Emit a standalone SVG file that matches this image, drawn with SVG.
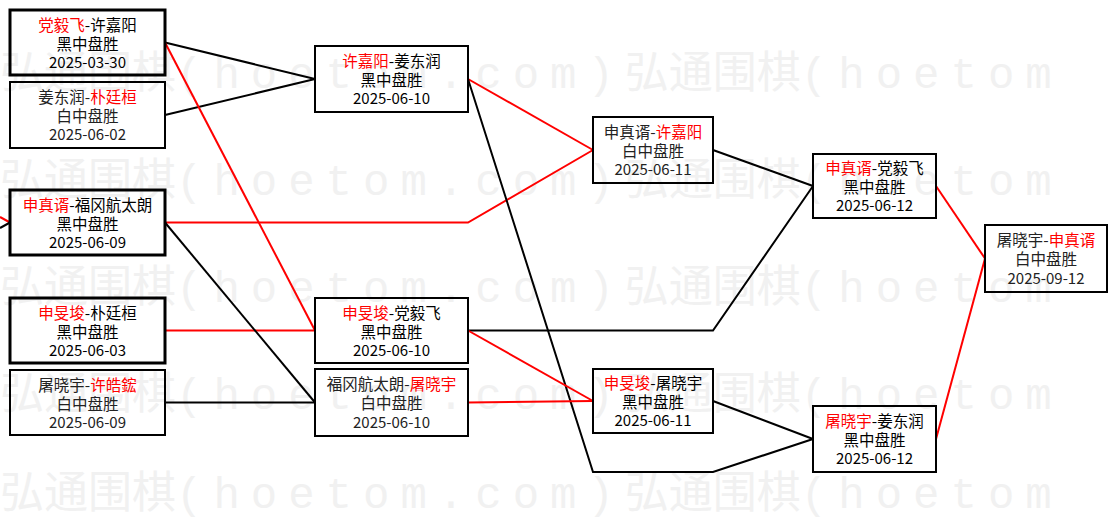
<svg xmlns="http://www.w3.org/2000/svg" width="1118" height="517" viewBox="0 0 1118 517">
<style>
.wm{font-family:"Noto Sans CJK SC","Liberation Mono",sans-serif;font-size:44px;fill:#f1f1f1}
.wm .a{font-family:"Liberation Mono","Noto Sans CJK SC",monospace;letter-spacing:11px}
.box{fill:none;stroke:#000;stroke-width:2}
.thick{stroke-width:3}
.t{font-family:"Noto Sans CJK SC","Noto Sans CJK JP",sans-serif;font-size:15.5px;fill:#000;text-anchor:middle}
.d{font-size:15px}
.w .t{fill:#222}
.r{fill:#f00}
.k{fill:none;stroke:#000;stroke-width:2}
.rd{fill:none;stroke:#f00;stroke-width:2}
</style>
<rect width="1118" height="517" fill="#fff"/>
<g id="watermark">
<text class="wm" x="0" y="88">弘通围棋<tspan class="a">(hoetom.com)</tspan>弘通围棋<tspan class="a">(hoetom</tspan></text>
<text class="wm" x="0" y="195">弘通围棋<tspan class="a">(hoetom.com)</tspan>弘通围棋<tspan class="a">(hoetom</tspan></text>
<text class="wm" x="0" y="302">弘通围棋<tspan class="a">(hoetom.com)</tspan>弘通围棋<tspan class="a">(hoetom</tspan></text>
<text class="wm" x="0" y="409">弘通围棋<tspan class="a">(hoetom.com)</tspan>弘通围棋<tspan class="a">(hoetom</tspan></text>
<text class="wm" x="0" y="508">弘通围棋<tspan class="a">(hoetom.com)</tspan>弘通围棋<tspan class="a">(hoetom</tspan></text>
</g>
<g id="connectors">
<polyline class="rd" points="0,217 10,222.5"/>
<polyline class="k" points="0,228 10,222.5"/>
<polyline class="k" points="165,42.5 315,79"/>
<polyline class="k" points="165,115 315,79"/>
<polyline class="rd" points="165,42.5 315,330.5"/>
<polyline class="rd" points="165,330.5 315,330.5"/>
<polyline class="rd" points="165,222.5 468,222.5 593,150"/>
<polyline class="k" points="165,222.5 315,402.5"/>
<polyline class="k" points="165,402.5 315,402.5"/>
<polyline class="rd" points="468,79 593,150"/>
<polyline class="k" points="468,79 593,472 713,472 813,439"/>
<polyline class="k" points="468,330.5 713,330.5 813,186"/>
<polyline class="rd" points="468,330.5 593,401"/>
<polyline class="rd" points="468,402.5 593,401"/>
<polyline class="k" points="713,150 813,186"/>
<polyline class="k" points="713,401 813,439"/>
<polyline class="rd" points="936,186 985,258.5"/>
<polyline class="rd" points="936,439 985,258.5"/>
</g>
<g id="b1"><rect class="box thick" x="10" y="10" width="155" height="65"/>
<text class="t" x="87.5" y="31"><tspan class="r">党毅飞</tspan>-许嘉阳</text>
<text class="t" x="87.5" y="50">黑中盘胜</text>
<text class="t d" x="87.5" y="68">2025-03-30</text></g>
<g id="b2" class="w"><rect class="box" x="10" y="82" width="155" height="66"/>
<text class="t" x="87.5" y="103">姜东润-<tspan class="r">朴廷桓</tspan></text>
<text class="t" x="87.5" y="122">白中盘胜</text>
<text class="t d" x="87.5" y="140">2025-06-02</text></g>
<g id="b3"><rect class="box thick" x="10" y="190" width="155" height="65"/>
<text class="t" x="87.5" y="211"><tspan class="r">申真谞</tspan>-福冈航太朗</text>
<text class="t" x="87.5" y="230">黑中盘胜</text>
<text class="t d" x="87.5" y="248">2025-06-09</text></g>
<g id="b4"><rect class="box thick" x="10" y="298" width="155" height="65"/>
<text class="t" x="87.5" y="319"><tspan class="r">申旻埈</tspan>-朴廷桓</text>
<text class="t" x="87.5" y="338">黑中盘胜</text>
<text class="t d" x="87.5" y="356">2025-06-03</text></g>
<g id="b5" class="w"><rect class="box" x="10" y="370" width="155" height="65"/>
<text class="t" x="87.5" y="391">屠晓宇-<tspan class="r">许皓鋐</tspan></text>
<text class="t" x="87.5" y="410">白中盘胜</text>
<text class="t d" x="87.5" y="428">2025-06-09</text></g>
<g id="c1"><rect class="box" x="315" y="46" width="153" height="66"/>
<text class="t" x="391.5" y="67"><tspan class="r">许嘉阳</tspan>-姜东润</text>
<text class="t" x="391.5" y="86">黑中盘胜</text>
<text class="t d" x="391.5" y="104">2025-06-10</text></g>
<g id="c2"><rect class="box" x="315" y="298" width="153" height="65"/>
<text class="t" x="391.5" y="319"><tspan class="r">申旻埈</tspan>-党毅飞</text>
<text class="t" x="391.5" y="338">黑中盘胜</text>
<text class="t d" x="391.5" y="356">2025-06-10</text></g>
<g id="c3" class="w"><rect class="box" x="315" y="369" width="153" height="67"/>
<text class="t" x="391.5" y="390">福冈航太朗-<tspan class="r">屠晓宇</tspan></text>
<text class="t" x="391.5" y="409">白中盘胜</text>
<text class="t d" x="391.5" y="428">2025-06-10</text></g>
<g id="d1" class="w"><rect class="box" x="593" y="117" width="120" height="66"/>
<text class="t" x="653" y="138">申真谞-<tspan class="r">许嘉阳</tspan></text>
<text class="t" x="653" y="157">白中盘胜</text>
<text class="t d" x="653" y="175">2025-06-11</text></g>
<g id="d2"><rect class="box" x="593" y="369" width="120" height="64"/>
<text class="t" x="653" y="389"><tspan class="r">申旻埈</tspan>-屠晓宇</text>
<text class="t" x="653" y="408">黑中盘胜</text>
<text class="t d" x="653" y="426">2025-06-11</text></g>
<g id="e1"><rect class="box" x="813" y="154" width="123" height="64"/>
<text class="t" x="874.5" y="174"><tspan class="r">申真谞</tspan>-党毅飞</text>
<text class="t" x="874.5" y="193">黑中盘胜</text>
<text class="t d" x="874.5" y="211">2025-06-12</text></g>
<g id="e2"><rect class="box" x="813" y="406" width="123" height="66"/>
<text class="t" x="874.5" y="427"><tspan class="r">屠晓宇</tspan>-姜东润</text>
<text class="t" x="874.5" y="446">黑中盘胜</text>
<text class="t d" x="874.5" y="464">2025-06-12</text></g>
<g id="f1" class="w"><rect class="box" x="985" y="225" width="122" height="67"/>
<text class="t" x="1046" y="246">屠晓宇-<tspan class="r">申真谞</tspan></text>
<text class="t" x="1046" y="265">白中盘胜</text>
<text class="t d" x="1046" y="284">2025-09-12</text></g>
</svg>
